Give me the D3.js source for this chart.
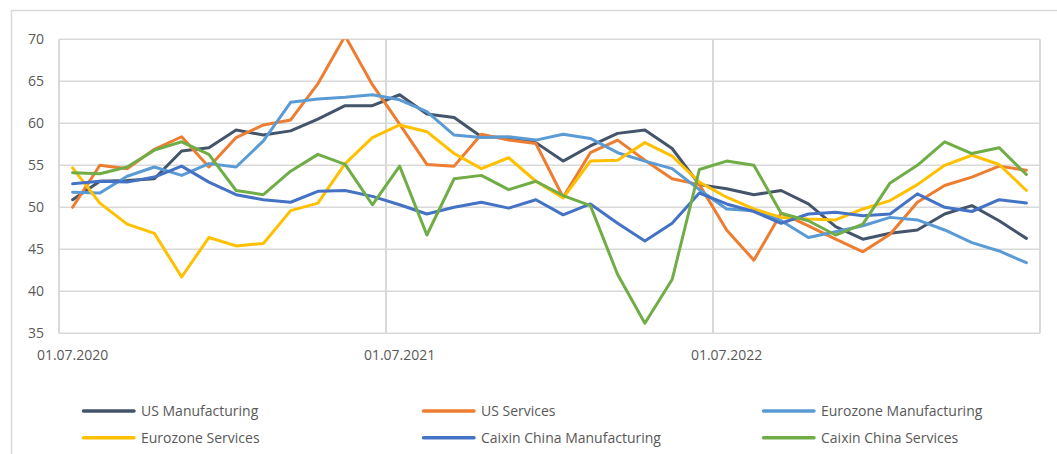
<!DOCTYPE html>
<html>
<head>
<meta charset="utf-8">
<script src="https://cdn.jsdelivr.net/npm/d3@7"></script>
<style>
  html, body { margin: 0; padding: 0; background: #ffffff; }
  svg { display: block; }
  text { font-family: "Open Sans", "Noto Sans", sans-serif; fill: #595959; }
</style>
</head>
<body>
<svg id="chart" width="1057" height="454"></svg>
<script>
const categories = [
  "01.07.2020","01.08.2020","01.09.2020","01.10.2020","01.11.2020","01.12.2020",
  "01.01.2021","01.02.2021","01.03.2021","01.04.2021","01.05.2021","01.06.2021",
  "01.07.2021","01.08.2021","01.09.2021","01.10.2021","01.11.2021","01.12.2021",
  "01.01.2022","01.02.2022","01.03.2022","01.04.2022","01.05.2022","01.06.2022",
  "01.07.2022","01.08.2022","01.09.2022","01.10.2022","01.11.2022","01.12.2022",
  "01.01.2023","01.02.2023","01.03.2023","01.04.2023","01.05.2023","01.06.2023"
];
const xTickLabels = ["01.07.2020", "01.07.2021", "01.07.2022"];
const yTicks = [35, 40, 45, 50, 55, 60, 65, 70];

const usManufacturing = [50.9,53.1,53.2,53.4,56.7,57.1,59.2,58.6,59.1,60.5,62.1,62.1,
  63.4,61.1,60.7,58.4,58.3,57.7,55.5,57.3,58.8,59.2,57.0,52.7,
  52.2,51.5,52.0,50.4,47.7,46.2,46.9,47.3,49.2,50.2,48.4,46.3];
const usServices = [50.0,55.0,54.6,56.9,58.4,54.8,58.3,59.8,60.4,64.7,70.4,64.6,
  59.9,55.1,54.9,58.7,58.0,57.6,51.2,56.5,58.0,55.6,53.4,52.7,
  47.3,43.7,49.3,47.8,46.2,44.7,46.8,50.6,52.6,53.6,54.9,54.4];
const eurozoneManufacturing = [51.8,51.7,53.7,54.8,53.8,55.2,54.8,57.9,62.5,62.9,63.1,63.4,
  62.8,61.4,58.6,58.3,58.4,58.0,58.7,58.2,56.5,55.5,54.6,52.1,
  49.8,49.6,48.4,46.4,47.1,47.8,48.8,48.5,47.3,45.8,44.8,43.4];
const eurozoneServices = [54.7,50.5,48.0,46.9,41.7,46.4,45.4,45.7,49.6,50.5,55.2,58.3,
  59.8,59.0,56.4,54.6,55.9,53.1,51.1,55.5,55.6,57.7,56.1,53.0,
  51.2,49.8,48.8,48.6,48.5,49.8,50.8,52.7,55.0,56.2,55.1,52.0];
const caixinManufacturing = [52.8,53.1,53.0,53.6,54.9,53.0,51.5,50.9,50.6,51.9,52.0,51.3,
  50.3,49.2,50.0,50.6,49.9,50.9,49.1,50.4,48.1,46.0,48.1,51.7,
  50.4,49.5,48.1,49.2,49.4,49.0,49.2,51.6,50.0,49.5,50.9,50.5];
const caixinServices = [54.1,54.0,54.8,56.8,57.8,56.3,52.0,51.5,54.3,56.3,55.1,50.3,
  54.9,46.7,53.4,53.8,52.1,53.1,51.4,50.2,42.0,36.2,41.4,54.5,
  55.5,55.0,49.3,48.4,46.7,48.0,52.9,55.0,57.8,56.4,57.1,53.9];

const seriesNames = ["US Manufacturing","US Services","Eurozone Manufacturing",
  "Eurozone Services","Caixin China Manufacturing","Caixin China Services"];
const seriesColors = ["#44546A","#ED7D31","#5B9BD5","#FFC000","#4472C4","#70AD47"];
const seriesValues = [usManufacturing, usServices, eurozoneManufacturing,
  eurozoneServices, caixinManufacturing, caixinServices];

const svg = d3.select("#chart");
const plot = { left: 59, right: 1040, top: 39.3, bottom: 333.3 };

// outer chart border
svg.append("path")
  .attr("d", `M11.5,460 L11.5,10.5 L1060,10.5`)
  .attr("fill", "none").attr("stroke", "#d9d9d9").attr("stroke-width", 1.5);

svg.append("defs").append("clipPath").attr("id", "plotClip")
  .append("rect").attr("x", plot.left - 10).attr("y", plot.top)
  .attr("width", plot.right - plot.left + 20).attr("height", plot.bottom - plot.top + 5);

const x = d3.scaleBand().domain(categories).range([plot.left, plot.right]).paddingInner(0).paddingOuter(0);
const y = d3.scaleLinear().domain([35, 70]).range([plot.bottom, plot.top]);
const cx = c => x(c) + x.bandwidth() / 2;

// horizontal gridlines
svg.append("g").selectAll("line").data(yTicks).join("line")
  .attr("x1", plot.left).attr("x2", plot.right)
  .attr("y1", d => y(d)).attr("y2", d => y(d))
  .attr("stroke", "#d9d9d9").attr("stroke-width", 1.5);

// vertical gridlines at every 12th category boundary
const vIdx = [0, 12, 24, 36];
svg.append("g").selectAll("line").data(vIdx).join("line")
  .attr("x1", d => d < categories.length ? x(categories[d]) : plot.right)
  .attr("x2", d => d < categories.length ? x(categories[d]) : plot.right)
  .attr("y1", plot.top).attr("y2", plot.bottom)
  .attr("stroke", "#d9d9d9").attr("stroke-width", 2);

// y axis
const yAxis = svg.append("g").attr("transform", `translate(${plot.left},0)`)
  .call(d3.axisLeft(y).tickValues(yTicks).tickSize(0).tickPadding(15).tickFormat(d3.format("d")));
yAxis.select(".domain").remove();
yAxis.selectAll("text").style("font-size", "14px").style("font-family", "'Open Sans', sans-serif").attr("fill", "#595959");

// x axis
const xAxis = svg.append("g").attr("transform", `translate(0,${plot.bottom})`)
  .call(d3.axisBottom(x).tickValues(xTickLabels).tickSize(0).tickPadding(17));
xAxis.select(".domain").remove();
xAxis.selectAll("text").style("font-size", "14px").style("font-family", "'Open Sans', sans-serif").attr("fill", "#595959");

// lines
const line = d3.line().x((d, i) => cx(categories[i])).y(d => y(d));
const linesG = svg.append("g").attr("clip-path", "url(#plotClip)");
seriesValues.forEach((vals, k) => {
  linesG.append("path").datum(vals)
    .attr("d", line)
    .attr("fill", "none")
    .attr("stroke", seriesColors[k])
    .attr("stroke-width", 3)
    .attr("stroke-linejoin", "round")
    .attr("stroke-linecap", "round");
});

// legend
const legCols = [82, 422, 762];
const legRows = [411, 437.7];
seriesNames.forEach((name, k) => {
  const lx = legCols[k % 3], ly = legRows[Math.floor(k / 3)];
  const g = svg.append("g");
  g.append("line").attr("x1", lx + 1.5).attr("x2", lx + 52).attr("y1", ly).attr("y2", ly)
    .attr("stroke", seriesColors[k]).attr("stroke-width", 3.5).attr("stroke-linecap", "round");
  g.append("text").attr("x", lx + 59).attr("y", ly).attr("dy", "0.35em")
    .style("font-size", "14px").text(name);
});
</script>
</body>
</html>
